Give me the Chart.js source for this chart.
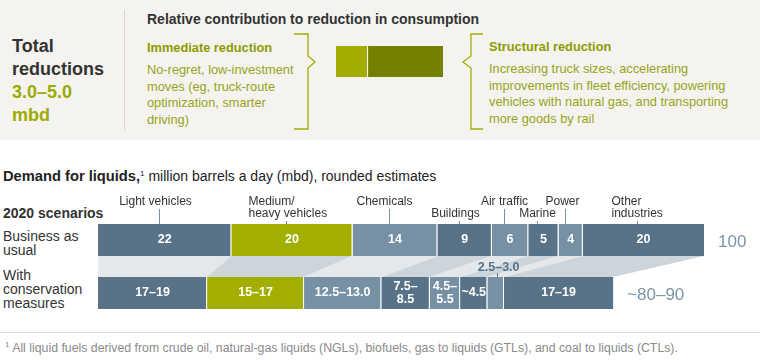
<!DOCTYPE html>
<html>
<head>
<meta charset="utf-8">
<script src="https://cdn.jsdelivr.net/npm/chart.js@4.4.1/dist/chart.umd.min.js"></script>
<style>
  body { margin: 0; width: 760px; height: 360px; position: relative; overflow: hidden; background: #fff;
         font-family: "Liberation Sans", Arial, Helvetica, sans-serif; color: #333; }
  .abs { position: absolute; white-space: nowrap; }
  .panel { position: absolute; left: 0; top: 0; width: 760px; height: 140px; background: #f4f3ef; }
  .big { font-weight: bold; font-size: 18px; line-height: 23px; }
  .green { color: #9cab00; }
  .head { font-weight: bold; font-size: 12.8px; line-height: 17px; color: #8d9b00; }
  .body { font-size: 12.8px; line-height: 16.7px; color: #98a41a; }
  sup { font-size: 8px; line-height: 0; vertical-align: 5px; }
</style>
</head>
<body>
<div class="panel"></div>

<!-- top panel -->
<div class="abs big" style="left:12px;top:35px">Total<br>reductions<br><span class="green">3.0–5.0<br>mbd</span></div>
<div class="abs" style="left:124px;top:10px;width:1px;height:121px;background:#d9d7cb"></div>
<div class="abs" style="left:147px;top:10px;font-weight:bold;font-size:14px;line-height:18px;color:#333">Relative contribution to reduction in consumption</div>
<div class="abs head" style="left:147px;top:39px">Immediate reduction</div>
<div class="abs body" style="left:147px;top:62px">No-regret, low-investment<br>moves (eg, truck-route<br>optimization, smarter<br>driving)</div>
<div class="abs head" style="left:489px;top:38px">Structural reduction</div>
<div class="abs body" style="left:489px;top:61px">Increasing truck sizes, accelerating<br>improvements in fleet efficiency, powering<br>vehicles with natural gas, and transporting<br>more goods by rail</div>
<svg class="abs" style="left:0;top:0" width="760" height="140">
  <path d="M294,34 H308 V56 L315,62 L308,68 V129 H294" fill="none" stroke="#a3ad00" stroke-width="1.3"/>
  <path d="M483,34 H471 V56 L463,62 L471,68 V129 H483" fill="none" stroke="#a3ad00" stroke-width="1.3"/>
</svg>
<canvas id="shareChart" class="abs" style="left:336px;top:46px" width="107" height="31"></canvas>

<!-- demand chart -->
<div class="abs" style="left:3px;top:167px;font-size:14px;line-height:18px;color:#222"><b style="font-size:14.7px">Demand for liquids,</b><sup>1</sup> million barrels a day (mbd), rounded estimates</div>
<div class="abs" style="left:3px;top:204px;font-weight:bold;font-size:14px;line-height:18px;color:#333">2020 scenarios</div>
<div class="abs" style="left:3px;top:229px;font-size:14px;line-height:14px;color:#333">Business as<br>usual</div>
<div class="abs" style="left:3px;top:268px;font-size:14px;line-height:14px;color:#333">With<br>conservation<br>measures</div>
<canvas id="demandChart" class="abs" style="left:0;top:185px" width="760" height="140"></canvas>

<div class="abs" style="left:0;top:332px;width:760px;height:1px;background:#dddddd"></div>
<div class="abs" style="left:5px;top:341px;font-size:12.3px;line-height:14px;color:#8a8a8a"><sup>1</sup> All liquid fuels derived from crude oil, natural-gas liquids (NGLs), biofuels, gas to liquids (GTLs), and coal to liquids (CTLs).</div>

<script>
// ---- data ----
const sectors = ['Light vehicles', 'Medium/\nheavy vehicles', 'Chemicals', 'Buildings', 'Air traffic', 'Marine', 'Power', 'Other\nindustries'];
const scenarios = ['Business as usual', 'With conservation measures'];
const businessAsUsual = [22, 20, 14, 9, 6, 5, 4, 20];
const conservation = [18, 16, 12.75, 8, 5, 4.5, 2.75, 18];   // midpoints of the ranges
const businessLabels = ['22', '20', '14', '9', '6', '5', '4', '20'];
const conservationLabels = ['17–19', '15–17', '12.5–13.0', '7.5–\n8.5', '4.5–\n5.5', '~4.5', '2.5–3.0', '17–19'];
const scenarioTotals = ['100', '~80–90'];
const reductionTypes = ['Immediate reduction', 'Structural reduction'];
const reductionShares = [30, 70];

// ---- styling ----
const DARK = '#587387', LIGHT = '#7691a4', GREEN = '#a2ae00';
const sectorColors = [DARK, GREEN, LIGHT, DARK, LIGHT, DARK, LIGHT, DARK];
const FONT = '"Liberation Sans", Arial, sans-serif';

// where each sector name sits above the top bar (row 0 = upper line, 1 = lower line)
const sectorLabelPos = [
    { row: 0, align: 'center', dx: -4 },
    { row: 0, align: 'left', dx: -38 },
    { row: 0, align: 'center', dx: -5 },
    { row: 1, align: 'center', dx: -4 },
    { row: 0, align: 'center', dx: 0 },
    { row: 1, align: 'center', dx: 0 },
    { row: 0, align: 'center', dx: -3 },
    { row: 0, align: 'left', dx: -26 }
];

// connectors between the two bars, drawn under the bars
const connectorPlugin = {
    id: 'connectors',
    beforeDatasetsDraw(chart) {
        const ctx = chart.ctx;
        ctx.save();
        sectors.forEach((s, i) => {
            const meta = chart.getDatasetMeta(i);
            const a = meta.data[0], b = meta.data[1];
            const yTop = a.y + a.height / 2, yBot = b.y - b.height / 2;
            ctx.fillStyle = i % 2 === 0 ? '#e4e8eb' : '#ccd5db';
            ctx.beginPath();
            ctx.moveTo(a.base, yTop);
            ctx.lineTo(a.x, yTop);
            ctx.lineTo(b.x, yBot);
            ctx.lineTo(b.base, yBot);
            ctx.closePath();
            ctx.fill();
        });
        ctx.restore();
    }
};

// value labels, sector names and totals
const labelPlugin = {
    id: 'labels',
    afterDatasetsDraw(chart) {
        const ctx = chart.ctx;
        ctx.save();
        ctx.textBaseline = 'middle';
        sectors.forEach((name, i) => {
            const meta = chart.getDatasetMeta(i);
            const top = meta.data[0], bot = meta.data[1];

            // inside labels
            ctx.fillStyle = '#fff';
            ctx.font = 'bold 12.5px ' + FONT;
            ctx.textAlign = 'center';
            ctx.fillText(businessLabels[i], (top.base + top.x) / 2, top.y);

            const cx = (bot.base + bot.x) / 2;
            const w = bot.x - bot.base;
            const lines = conservationLabels[i].split('\n');
            if (w < 25) {
                const barTop = bot.y - bot.height / 2;
                ctx.fillStyle = DARK;
                ctx.fillText(lines.join(''), cx + 3, barTop - 9);
                ctx.strokeStyle = DARK;
                ctx.lineWidth = 1;
                ctx.beginPath();
                ctx.moveTo(Math.round(cx) + 1.5, barTop - 4);
                ctx.lineTo(Math.round(cx) + 1.5, barTop);
                ctx.stroke();
            } else {
                lines.forEach((ln, k) => {
                    ctx.fillText(ln, cx, bot.y + (k - (lines.length - 1) / 2) * 12.5);
                });
            }

            // sector name above the business-as-usual bar
            const pos = sectorLabelPos[i];
            const barTop = top.y - top.height / 2;
            const tickX = Math.round((top.base + top.x) / 2 - 6) + 0.5;
            const nameLines = name.split('\n');
            ctx.fillStyle = '#333';
            ctx.font = '12px ' + FONT;
            ctx.textAlign = pos.align;
            let lastY = 0;
            nameLines.forEach((ln, k) => {
                const y = barTop - 22 + (pos.row + k) * 12;
                lastY = y;
                ctx.fillText(ln, tickX + pos.dx, y);
            });
            ctx.strokeStyle = '#7691a4';
            ctx.lineWidth = 1;
            ctx.beginPath();
            ctx.moveTo(tickX, lastY + 7);
            ctx.lineTo(tickX, barTop);
            ctx.stroke();
        });

        // totals to the right of each bar
        const last = chart.getDatasetMeta(sectors.length - 1);
        ctx.fillStyle = '#7b95a6';
        ctx.font = '17px ' + FONT;
        ctx.textAlign = 'left';
        scenarioTotals.forEach((t, r) => {
            const el = last.data[r];
            ctx.fillText(t, el.x + 14, el.y + 2);
        });
        ctx.restore();
    }
};

new Chart(document.getElementById('demandChart'), {
    type: 'bar',
    data: {
        labels: scenarios,
        datasets: sectors.map((s, i) => ({
            label: s,
            data: [businessAsUsual[i], conservation[i]],
            backgroundColor: sectorColors[i],
            borderColor: '#fff',
            borderWidth: i < sectors.length - 1 ? { left: 0, right: 1, top: 0, bottom: 0 } : 0,
            inflateAmount: 0,
            barThickness: 32
        }))
    },
    options: {
        indexAxis: 'y',
        responsive: false,
        animation: false,
        layout: { padding: { left: 98, right: 56, top: 28.5, bottom: 5.5 } },
        scales: {
            x: { stacked: true, min: 0, max: 100, display: false },
            y: { stacked: true, display: false }
        },
        plugins: { legend: { display: false }, tooltip: { enabled: false } }
    },
    plugins: [connectorPlugin, labelPlugin]
});

new Chart(document.getElementById('shareChart'), {
    type: 'bar',
    data: {
        labels: ['share'],
        datasets: reductionTypes.map((t, i) => ({
            label: t,
            data: [reductionShares[i]],
            backgroundColor: i === 0 ? '#a3ad00' : '#748000',
            borderColor: '#fff',
            borderWidth: i === 0 ? { left: 0, right: 1, top: 0, bottom: 0 } : 0,
            inflateAmount: 0,
            barPercentage: 1,
            categoryPercentage: 1
        }))
    },
    options: {
        indexAxis: 'y',
        responsive: false,
        animation: false,
        layout: { padding: 0 },
        scales: {
            x: { stacked: true, min: 0, max: 100, display: false },
            y: { stacked: true, display: false }
        },
        plugins: { legend: { display: false }, tooltip: { enabled: false } }
    }
});
</script>
</body>
</html>
